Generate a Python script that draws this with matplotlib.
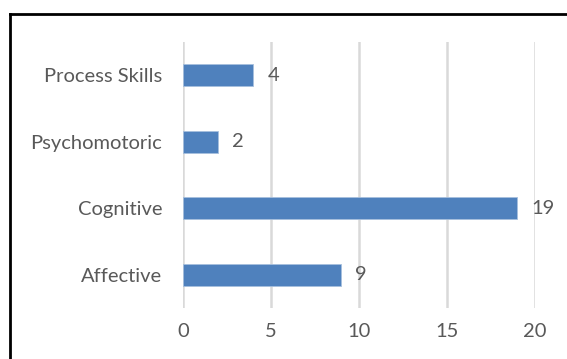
import matplotlib.pyplot as plt
from matplotlib.lines import Line2D

categories = ['Affective', 'Cognitive', 'Psychomotoric', 'Process Skills']
counts = [9, 19, 2, 4]
xticks = [0, 5, 10, 15, 20]

plt.rcParams['font.family'] = ['Lato', 'DejaVu Sans']
grey = '#595959'

fig = plt.figure(figsize=(5.67, 3.59), dpi=100)
ax = fig.add_axes([183 / 567, 1 - 308 / 359, (535 - 183) / 567, (308 - 42) / 359])

bars = ax.barh(range(len(categories)), counts, height=0.33,
               color='#4F81BD', edgecolor='#A7C0DE', linewidth=0.6, zorder=3)
for rect, v in zip(bars, counts):
    ax.annotate(str(v), (rect.get_width(), rect.get_y() + rect.get_height() / 2),
                xytext=(10, 0), textcoords='offset points', va='center',
                ha='left', color=grey, fontsize=14.5)

ax.set_xlim(0, 20)
ax.set_ylim(-0.5, len(categories) - 0.5)
ax.set_xticks(xticks)
ax.set_yticks(range(len(categories)))
ax.set_yticklabels(categories)
ax.grid(axis='x', color='#D9D9D9', linewidth=1.8, zorder=0)
ax.tick_params(length=0, colors=grey, labelsize=14.5)
ax.tick_params(axis='x', pad=11)
ax.tick_params(axis='y', pad=15)
for s in ax.spines.values():
    s.set_visible(False)

# frame lines along the top and left edge
fig.add_artist(Line2D([10 / 567, 1], [1 - 14 / 359, 1 - 14 / 359],
                      transform=fig.transFigure, color='black', linewidth=2))
fig.add_artist(Line2D([10 / 567, 10 / 567], [0, 1 - 14 / 359],
                      transform=fig.transFigure, color='black', linewidth=2))

fig.savefig('out.png', dpi=100)
